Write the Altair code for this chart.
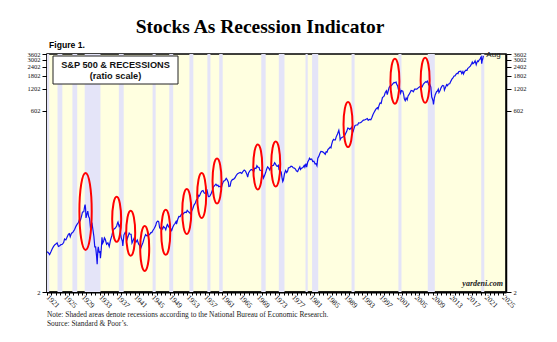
import altair as alt
import pandas as pd

# ---------------- data ----------------
sp_years = [
    1921.0, 1921.3, 1921.6, 1921.9, 1922.2, 1922.5, 1922.8, 1923.1, 1923.3, 1923.6, 1923.9,
    1924.2, 1924.5, 1924.8, 1925.0, 1925.3, 1925.6, 1925.9, 1926.1, 1926.3, 1926.6, 1926.8,
    1927.0, 1927.3, 1927.6, 1927.9, 1928.2, 1928.4, 1928.6, 1928.9, 1929.1, 1929.4, 1929.6,
    1929.7, 1929.8, 1929.9, 1930.1, 1930.3, 1930.5, 1930.7, 1930.9, 1931.1, 1931.25, 1931.5,
    1931.7, 1931.9, 1932.1, 1932.3, 1932.45, 1932.6, 1932.7, 1932.9, 1933.1, 1933.2, 1933.4,
    1933.55, 1933.7, 1933.9, 1934.1, 1934.3, 1934.6, 1934.9, 1935.2, 1935.5, 1935.8, 1936.0,
    1936.3, 1936.6, 1936.9, 1937.1, 1937.2, 1937.45, 1937.65, 1937.8, 1937.95, 1938.2, 1938.3,
    1938.55, 1938.85, 1939.1, 1939.3, 1939.55, 1939.75, 1939.9, 1940.2, 1940.4, 1940.6, 1940.85,
    1941.0, 1941.3, 1941.6, 1941.9, 1942.2, 1942.35, 1942.6, 1942.9, 1943.2, 1943.5, 1943.8,
    1944.0, 1944.4, 1944.7, 1944.9, 1945.2, 1945.5, 1945.8, 1946.0, 1946.3, 1946.5, 1946.7,
    1946.9, 1947.1, 1947.4, 1947.6, 1947.9, 1948.1, 1948.4, 1948.5, 1948.75, 1948.95, 1949.2,
    1949.45, 1949.7, 1949.95, 1950.2, 1950.45, 1950.55, 1950.85, 1951.1, 1951.4, 1951.7, 1951.95,
    1952.2, 1952.5, 1952.8, 1953.0, 1953.3, 1953.55, 1953.75, 1954.0, 1954.3, 1954.55, 1954.85,
    1955.1, 1955.4, 1955.6, 1955.8, 1956.0, 1956.3, 1956.6, 1956.85, 1957.1, 1957.4, 1957.55,
    1957.8, 1957.95, 1958.2, 1958.5, 1958.8, 1959.0, 1959.3, 1959.55, 1959.8, 1960.0, 1960.2,
    1960.5, 1960.8, 1961.0, 1961.3, 1961.6, 1961.9, 1962.1, 1962.4, 1962.5, 1962.8, 1963.0,
    1963.3, 1963.6, 1963.9, 1964.2, 1964.5, 1964.8, 1965.1, 1965.45, 1965.7, 1966.0, 1966.3,
    1966.6, 1966.8, 1967.0, 1967.3, 1967.6, 1967.9, 1968.2, 1968.4, 1968.7, 1968.9, 1969.1,
    1969.4, 1969.55, 1969.85, 1970.1, 1970.4, 1970.6, 1970.9, 1971.1, 1971.35, 1971.6, 1971.85,
    1972.1, 1972.4, 1972.7, 1972.95, 1973.1, 1973.4, 1973.6, 1973.8, 1973.95, 1974.2, 1974.45,
    1974.65, 1974.8, 1974.95, 1975.2, 1975.45, 1975.7, 1975.9, 1976.1, 1976.4, 1976.7, 1976.95,
    1977.2, 1977.45, 1977.7, 1977.9, 1978.2, 1978.45, 1978.7, 1978.85, 1979.1, 1979.4, 1979.7,
    1979.85, 1980.1, 1980.25, 1980.5, 1980.75, 1980.9, 1981.1, 1981.4, 1981.65, 1981.9, 1982.2,
    1982.4, 1982.6, 1982.8, 1983.0, 1983.3, 1983.5, 1983.8, 1984.0, 1984.3, 1984.5, 1984.7,
    1984.9, 1985.1, 1985.4, 1985.6, 1985.8, 1985.95, 1986.2, 1986.4, 1986.6, 1986.8, 1987.0,
    1987.3, 1987.6, 1987.8, 1987.9, 1988.1, 1988.4, 1988.6, 1988.9, 1989.1, 1989.4, 1989.65,
    1989.9, 1990.1, 1990.4, 1990.55, 1990.8, 1991.0, 1991.3, 1991.6, 1991.9, 1992.1, 1992.4,
    1992.7, 1992.95, 1993.2, 1993.5, 1993.8, 1994.1, 1994.3, 1994.6, 1994.9, 1995.1, 1995.4,
    1995.6, 1995.9, 1996.1, 1996.4, 1996.55, 1996.8, 1997.0, 1997.25, 1997.55, 1997.8, 1997.95,
    1998.2, 1998.45, 1998.65, 1998.9, 1999.1, 1999.4, 1999.6, 1999.85, 2000.0, 2000.2, 2000.4,
    2000.65, 2000.85, 2001.0, 2001.2, 2001.45, 2001.7, 2001.9, 2002.2, 2002.4, 2002.55, 2002.75,
    2002.95, 2003.2, 2003.4, 2003.6, 2003.9, 2004.1, 2004.4, 2004.6, 2004.9, 2005.1, 2005.4,
    2005.65, 2005.9, 2006.1, 2006.4, 2006.6, 2006.9, 2007.1, 2007.4, 2007.6, 2007.8, 2007.95,
    2008.1, 2008.35, 2008.6, 2008.8, 2008.95, 2009.1, 2009.2, 2009.4, 2009.6, 2009.9, 2010.1,
    2010.3, 2010.45, 2010.7, 2010.95, 2011.1, 2011.3, 2011.55, 2011.7, 2011.9, 2012.2, 2012.4,
    2012.6, 2012.9, 2013.1, 2013.4, 2013.6, 2013.9, 2014.1, 2014.4, 2014.65, 2014.8, 2014.95,
    2015.2, 2015.45, 2015.65, 2015.9, 2016.05, 2016.3, 2016.6, 2016.85, 2017.0, 2017.3, 2017.6,
    2017.9, 2018.05, 2018.2, 2018.5, 2018.7, 2018.95, 2019.1, 2019.3, 2019.45, 2019.6, 2019.8,
    2020.0, 2020.1, 2020.2, 2020.3, 2020.45, 2020.58,
]
sp_values = [
    7.1, 6.9, 6.5, 7.1, 7.8, 8.4, 8.9, 9.1, 9.4, 8.4, 8.6,
    8.9, 9.0, 9.5, 10.6, 10.3, 11.3, 12.4, 12.6, 11.4, 12.8, 12.9,
    13.4, 14.3, 15.8, 17.0, 18.0, 19.5, 19.0, 22.0, 24.9, 25.0, 30.0,
    31.3, 27.9, 20.6, 23.0, 25.5, 21.5, 20.5, 15.5, 16.5, 17.8, 14.0,
    11.5, 8.3, 8.3, 6.3, 4.8, 7.5, 8.3, 7.0, 7.1, 5.8, 8.0,
    11.2, 9.3, 9.8, 11.0, 10.5, 9.0, 9.4, 8.4, 10.3, 11.8, 13.4,
    14.6, 15.0, 16.0, 17.6, 18.1, 15.8, 16.5, 12.5, 11.0, 9.9, 8.5,
    12.0, 13.1, 12.3, 10.6, 11.7, 12.8, 12.4, 12.3, 9.4, 10.0, 10.8,
    10.5, 9.6, 10.3, 9.1, 8.5, 7.8, 8.6, 9.5, 11.0, 12.2, 11.7,
    11.8, 12.2, 13.0, 13.0, 14.0, 14.9, 16.2, 18.0, 18.7, 18.3, 15.1,
    14.7, 15.5, 14.6, 15.7, 15.1, 14.2, 16.5, 16.8, 15.6, 15.2, 14.8,
    13.9, 15.4, 16.5, 17.3, 18.4, 17.0, 19.8, 21.6, 21.5, 23.3, 23.0,
    23.9, 24.8, 24.5, 26.2, 25.0, 24.3, 23.3, 25.5, 28.0, 30.9, 33.0,
    36.5, 37.8, 42.0, 41.0, 44.0, 48.0, 48.8, 45.5, 44.5, 46.2, 48.5,
    41.0, 40.3, 41.3, 45.0, 50.7, 55.0, 57.5, 59.7, 57.0, 58.0, 55.0,
    56.0, 53.5, 59.7, 65.8, 67.0, 71.7, 69.0, 63.1, 55.6, 56.2, 65.0,
    69.0, 70.0, 73.0, 79.0, 83.0, 85.0, 86.5, 84.0, 89.0, 93.0, 90.0,
    82.0, 74.5, 85.0, 91.0, 95.0, 93.0, 89.0, 99.0, 98.0, 107.0, 102.0,
    101.0, 93.0, 92.0, 88.0, 72.5, 77.0, 86.0, 95.0, 103.0, 99.0, 93.0,
    104.0, 107.0, 108.0, 117.5, 114.0, 106.0, 105.0, 108.0, 94.0, 92.0, 87.0,
    72.0, 65.0, 68.0, 83.0, 92.0, 86.0, 90.0, 100.0, 101.0, 105.0, 104.0,
    100.0, 99.0, 96.0, 91.0, 88.5, 96.0, 103.0, 95.0, 99.0, 101.0, 108.0,
    102.0, 114.0, 102.0, 120.0, 128.0, 135.0, 130.0, 132.0, 122.0, 123.0, 113.0,
    114.0, 107.0, 135.0, 142.0, 158.0, 167.0, 166.0, 164.0, 158.0, 153.0, 166.0,
    164.0, 178.0, 185.0, 192.0, 187.0, 208.0, 235.0, 245.0, 240.0, 240.0, 265.0,
    290.0, 325.0, 280.0, 242.0, 255.0, 262.0, 265.0, 274.0, 290.0, 315.0, 350.0,
    345.0, 335.0, 350.0, 360.0, 305.0, 335.0, 380.0, 385.0, 385.0, 412.0, 410.0,
    418.0, 435.0, 448.0, 450.0, 462.0, 472.0, 447.0, 460.0, 455.0, 480.0, 535.0,
    565.0, 610.0, 640.0, 665.0, 640.0, 720.0, 770.0, 760.0, 910.0, 940.0, 960.0,
    1075.0, 1130.0, 1000.0, 1150.0, 1260.0, 1340.0, 1330.0, 1390.0, 1430.0, 1470.0, 1450.0,
    1490.0, 1370.0, 1330.0, 1180.0, 1235.0, 1050.0, 1140.0, 1120.0, 1000.0, 880.0, 830.0,
    900.0, 850.0, 960.0, 1000.0, 1080.0, 1140.0, 1130.0, 1100.0, 1190.0, 1190.0, 1190.0,
    1230.0, 1260.0, 1290.0, 1300.0, 1280.0, 1400.0, 1440.0, 1500.0, 1480.0, 1530.0, 1470.0,
    1360.0, 1390.0, 1270.0, 930.0, 880.0, 820.0, 735.0, 900.0, 1000.0, 1100.0, 1120.0,
    1190.0, 1070.0, 1140.0, 1250.0, 1300.0, 1340.0, 1320.0, 1160.0, 1240.0, 1370.0, 1330.0,
    1400.0, 1410.0, 1500.0, 1630.0, 1680.0, 1800.0, 1810.0, 1920.0, 1970.0, 1940.0, 2060.0,
    2080.0, 2100.0, 1950.0, 2070.0, 1920.0, 2070.0, 2170.0, 2150.0, 2280.0, 2360.0, 2460.0,
    2650.0, 2790.0, 2650.0, 2750.0, 2900.0, 2570.0, 2750.0, 2900.0, 2840.0, 2980.0, 3040.0,
    3250.0, 3300.0, 2650.0, 2900.0, 3100.0, 3400.0,
]

rec_start = [1921.0, 1923.4, 1926.8, 1929.6, 1937.4, 1945.1, 1948.9, 1953.5, 1957.6,
             1960.3, 1969.9, 1973.9, 1980.0, 1981.5, 1990.5, 2001.2, 2007.9, 2020.1]
rec_end = [1921.5, 1924.5, 1927.9, 1933.2, 1938.5, 1945.8, 1949.8, 1954.4, 1958.3,
           1961.1, 1970.9, 1975.2, 1980.5, 1982.9, 1991.2, 2001.9, 2009.5, 2020.8]

big_ellipse_year = [1929.8]
big_ellipse_value = [25.3]
ellipse_years = [1936.9, 1940.1, 1943.3, 1948.1, 1952.9, 1956.3, 1959.8,
                 1969.1, 1973.2, 1989.7, 2000.4, 2007.3]
ellipse_values = [19.7, 12.7, 7.9, 13.1, 25.3, 41.8, 66.0,
                  102.6, 112.7, 390.0, 1532.0, 1580.0]

x_ticks = list(range(1921, 2026))
y_ticks = [2, 602, 1202, 1802, 2402, 3002, 3602]

title_text = "Stocks As Recession Indicator"
figure_text = "Figure 1."
legend_line1 = "S&P 500 & RECESSIONS"
legend_line2 = "(ratio scale)"
note_text = "Note: Shaded areas denote recessions according to the National Bureau of Economic Research."
source_text = "Source: Standard & Poor\u2019s."
site_text = "yardeni.com"
end_label = "Aug"

# ---------------- tables ----------------
sp = pd.DataFrame({"year": sp_years, "value": sp_values})
rec = pd.DataFrame({"start": rec_start, "end": rec_end})
big_ell = pd.DataFrame({"year": big_ellipse_year, "value": big_ellipse_value})
ell = pd.DataFrame({"year": ellipse_years, "value": ellipse_values})
last = sp.tail(1)
one = pd.DataFrame({"a": [0]})

W, H = 459, 238
SERIF = "Liberation Serif"
SANS = "Liberation Sans"

xs = alt.Scale(domain=[1921, 2025.75], nice=False, zero=False)
ys = alt.Scale(type="log", domain=[2, 3602], nice=False)

x_axis = alt.Axis(
    values=x_ticks,
    labelExpr="(datum.value - 1921) % 4 == 0 ? format(datum.value, 'd') : ''",
    labelAngle=45, labelAlign="left", labelBaseline="middle",
    labelFont=SERIF, labelFontSize=7.5, labelColor="#111",
    labelOverlap=False, labelPadding=1, labelFlush=False, labelBound=False,
    tickSize=3, tickColor="black", tickWidth=1,
    domainColor="black", domainWidth=2, grid=False, title=None,
)
y_common = dict(
    values=y_ticks, format="d",
    labelFont=SERIF, labelFontSize=6.5, labelColor="#111", labelOverlap=False,
    labelPadding=2, tickSize=5, tickColor="black",
    domainColor="black", domainWidth=1.5, grid=False, title=None,
)
y_axis_left = alt.Axis(orient="left", **y_common)
y_axis_right = alt.Axis(orient="right", **y_common)


def X(field):
    return alt.X(field, scale=xs, axis=x_axis)


bands = alt.Chart(rec).mark_rect(color="#E4E4F8").encode(
    x=X("start:Q"),
    x2="end:Q",
    y=alt.value(0), y2=alt.value(H),
)

line = alt.Chart(sp).mark_line(color="#1010EE", strokeWidth=1.2).encode(
    x=X("year:Q"),
    y=alt.Y("value:Q", scale=ys, axis=y_axis_left),
)

k = 0.5523
def ellipse_path(a):
    b = round(a * k, 4)
    return (f"M0,-1C{b},-1 {a},-{k} {a},0C{a},{k} {b},1 0,1"
            f"C-{b},1 -{a},{k} -{a},0C-{a},-{k} -{b},-1 0,-1Z")

ellipses = alt.Chart(ell).mark_point(
    shape=ellipse_path(0.2), size=2025, filled=False, color="#FF0000",
    strokeWidth=2, opacity=1,
).encode(x=X("year:Q"), y=alt.Y("value:Q", scale=ys, axis=y_axis_left))

big_ellipse = alt.Chart(big_ell).mark_point(
    shape=ellipse_path(0.16), size=5929, filled=False, color="#FF0000",
    strokeWidth=2, opacity=1,
).encode(x=X("year:Q"), y=alt.Y("value:Q", scale=ys, axis=y_axis_left))

aug = alt.Chart(last).mark_text(
    text=end_label, align="left", baseline="middle", dx=3, dy=-1,
    font=SANS, fontSize=8, color="#222",
).encode(x=X("year:Q"), y=alt.Y("value:Q", scale=ys, axis=y_axis_left))


def txt(text, x, y, **kw):
    return alt.Chart(one).mark_text(text=text, **kw).encode(x=alt.value(x), y=alt.value(y))


legend_box = alt.Chart(one).mark_rect(fill="white", stroke="#222", strokeWidth=1).encode(
    x=alt.value(6), x2=alt.value(131), y=alt.value(2), y2=alt.value(30)
)

main = alt.layer(
    bands, line, ellipses, big_ellipse, aug, legend_box,
    txt(legend_line1, 68.5, 14, font=SANS, fontSize=9.2, fontWeight="bold", align="center", baseline="alphabetic", color="#111"),
    txt(legend_line2, 68.5, 24.5, font=SANS, fontSize=9.2, fontWeight="bold", align="center", baseline="alphabetic", color="#111"),
    txt(site_text, 456, 232, font=SERIF, fontSize=8, fontWeight="bold", fontStyle="italic", align="right", baseline="alphabetic", color="#222"),
    txt(title_text, 213, -21, font=SERIF, fontSize=19.5, fontWeight="bold", align="center", baseline="alphabetic", color="black"),
    txt(figure_text, 2, -6, font=SANS, fontSize=8.6, fontWeight="bold", align="left", baseline="alphabetic", color="black"),
    txt(note_text, 0, 263, font=SERIF, fontSize=7.4, align="left", baseline="alphabetic", color="#222"),
    txt(source_text, 0, 272, font=SERIF, fontSize=7.4, align="left", baseline="alphabetic", color="#222"),
)

right = alt.Chart(sp).mark_line(opacity=0).encode(
    x=X("year:Q"),
    y=alt.Y("value:Q", scale=ys, axis=y_axis_right),
)

chart = alt.layer(main, right).resolve_scale(y="independent").properties(
    width=W, height=H,
    autosize=alt.AutoSizeParams(type="none"),
    padding={"left": 47, "top": 54, "right": 51, "bottom": 50},
    background="white",
).configure_view(fill="#FFFFE0", stroke="black", strokeWidth=1.5)

chart.save("out.html", embed_options={"renderer": "svg", "actions": False})
